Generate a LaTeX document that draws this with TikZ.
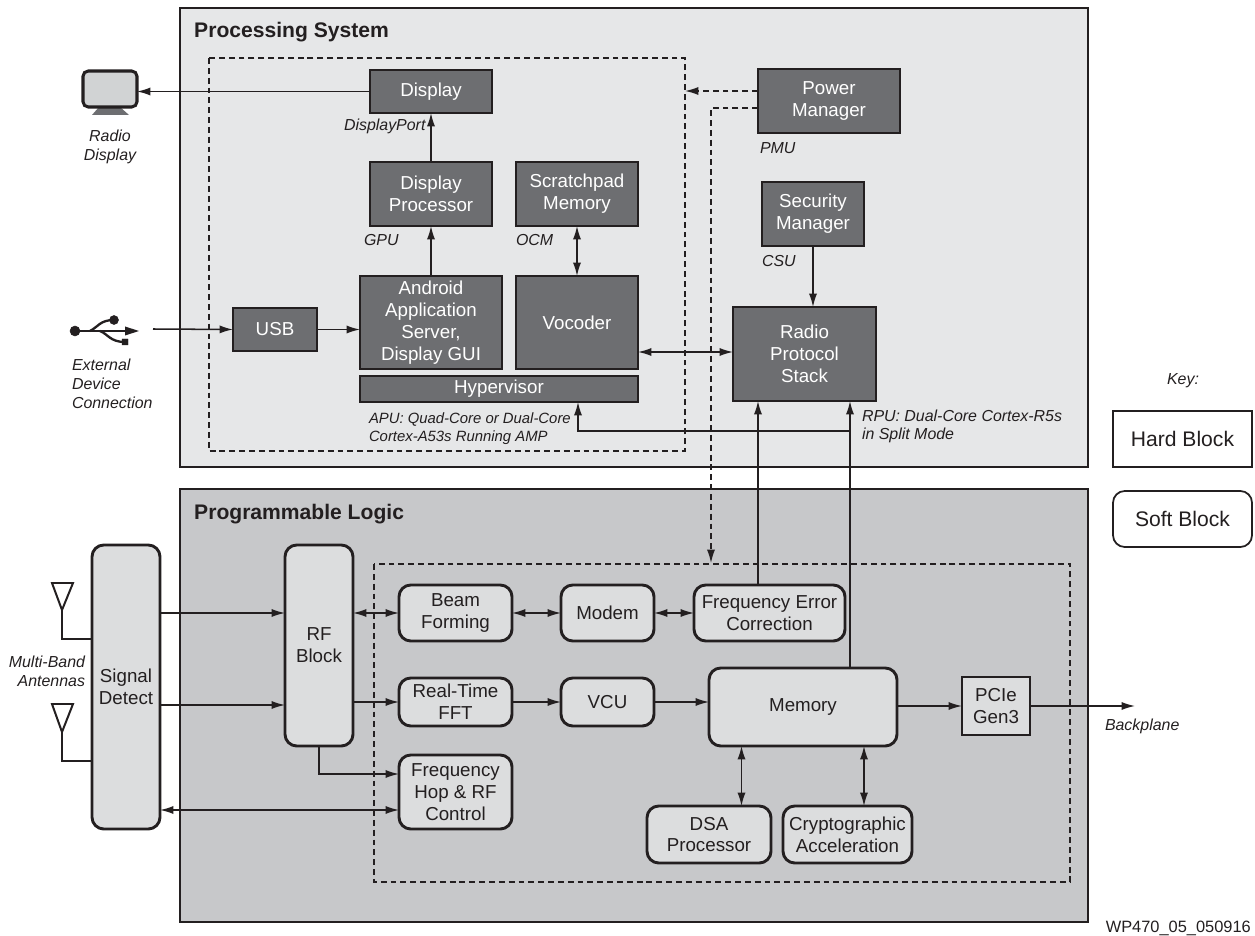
\documentclass[tikz,border=0pt]{standalone}
\usepackage{fontspec}
\setmainfont{Liberation Sans}
\usetikzlibrary{arrows.meta}
\definecolor{inkline}{HTML}{231F20}
\definecolor{psfill}{HTML}{E6E7E8}
\definecolor{plfill}{HTML}{C7C8CA}
\definecolor{hardfill}{HTML}{6D6E71}
\definecolor{softfill}{HTML}{DCDDDE}
\definecolor{screenfill}{HTML}{D1D3D4}
\tikzset{
    wh/.style 2 args={minimum width=#1*0.03cm,minimum height=#2*0.03cm},
    block/.style={draw=inkline,line width=2.5pt,inner sep=0pt,outer sep=0pt,align=center,
        font=\fontsize{16}{18.6}\selectfont},
    hard/.style={block,fill=hardfill,text=white},
    soft/.style={block,fill=softfill,text=inkline,rounded corners=10pt},
    plainbox/.style={block,fill=softfill,text=inkline},
    panel/.style={draw=inkline,line width=2.5pt,outer sep=0pt},
    zone/.style={draw=inkline,line width=1pt,dash pattern=on 5pt off 3.4pt},
    wire/.style={draw=inkline,line width=1.3pt},
    dashwire/.style={wire,dash pattern=on 5pt off 3.4pt},
    note/.style={inner sep=0pt,outer sep=0pt,text=inkline,align=left,
        font=\fontsize{13.6}{16}\selectfont\itshape},
    keybox/.style={line width=1.5pt,font=\fontsize{18}{20}\selectfont},
    title/.style={inner sep=0pt,anchor=west,text=inkline,font=\fontsize{18}{20}\selectfont\bfseries}
}
\begin{document}
\begin{tikzpicture}[x=0.03cm,y=-0.03cm,>={Latex[length=11.5pt,width=7pt]}]
    \useasboundingbox (0,0) rectangle (1255,936);
    % panels
    \draw[panel,fill=psfill] (180,8) rectangle (1088,467);
    \draw[panel,fill=plfill] (180,489) rectangle (1088,922);
    \draw[zone] (209,58) rectangle (685,451);
    \draw[zone] (374,564) rectangle (1070,882);
    \node[title] (pstitle) at (194,32) {Processing System};
    \node[title] (pltitle) at (194,514) {Programmable Logic};
    % processing system
    \node[hard,wh={122}{43}] (display) at (431,91.5) {Display};
    \node[hard,wh={122}{64}] (dispproc) at (431,194) {Display\\Processor};
    \node[hard,wh={122}{64}] (scratch) at (577,194) {Scratchpad\\Memory};
    \node[hard,wh={142}{64}] (power) at (829,101) {Power\\Manager};
    \node[hard,wh={102}{64}] (security) at (813,214) {Security\\Manager};
    \node[hard,wh={84}{43}] (usb) at (275,329.5) {USB};
    \node[hard,wh={142}{93}] (android) at (431,322.5) {Android\\Application\\Server,\\Display GUI};
    \node[hard,wh={122}{93}] (vocoder) at (577,322.5) {Vocoder};
    \node[hard,wh={278}{26}] (hyper) at (499,389) {Hypervisor};
    \node[hard,wh={143}{94}] (radio) at (804.5,354) {Radio\\Protocol\\Stack};
    % programmable logic
    \node[soft,wh={68}{284}] (detect) at (126,687) {Signal\\Detect};
    \node[soft,wh={68}{201}] (rf) at (319,645.5) {RF\\Block};
    \node[soft,wh={113}{56}] (beam) at (455.5,613) {Beam\\Forming};
    \node[soft,wh={93}{56}] (modem) at (607.5,613) {Modem};
    \node[soft,wh={151}{56}] (ferr) at (769.5,613) {Frequency Error\\Correction};
    \node[soft,wh={113}{48}] (fft) at (455.5,702) {Real-Time\\FFT};
    \node[soft,wh={93}{48}] (vcu) at (607.5,702) {VCU};
    \node[soft,wh={188}{78}] (memory) at (803,707) {Memory};
    \node[plainbox,wh={68}{58}] (pcie) at (996,706) {PCIe\\Gen3};
    \node[soft,wh={113}{74}] (hop) at (455.5,792) {Frequency\\Hop \& RF\\Control};
    \node[soft,wh={124}{57}] (dsa) at (709,834.5) {DSA\\Processor};
    \node[soft,wh={129}{57}] (crypto) at (847.5,834.5) {Cryptographic\\Acceleration};
    % key
    \node[block,fill=white,text=inkline,wh={139}{56},keybox] (hardkey) at (1182.5,439) {Hard Block};
    \node[soft,fill=white,wh={139}{56},keybox] (softkey) at (1182.5,519) {Soft Block};
    % monitor
    \fill[hardfill] (99,107) -- (120,107) -- (129,115) -- (92,115) -- cycle;
    \node[draw=inkline,fill=screenfill,line width=2.6pt,rounded corners=4.5pt,inner sep=0pt,outer sep=0pt,wh={54}{36}] (monitor) at (110,89) {};
    % usb symbol
    \coordinate (usbout) at (153,329);
    \filldraw[inkline] (75,331) circle (5) (114,320) circle (4.5) (122,339) rectangle (128,345);
    \draw[inkline,line width=2pt] (75,331) -- (128,331);
    \fill[inkline] (139,331) -- (125,326.5) -- (125,335.5) -- cycle;
    \draw[inkline,line width=2pt] (90,331) .. controls (98,327) and (100,320) .. (114,320);
    \draw[inkline,line width=2pt] (100,331) .. controls (108,334) and (110,342) .. (125,342);
    % antennas
    \coordinate (anta) at (62,610);
    \coordinate (antb) at (62,732);
    \draw[inkline,line width=1.7pt] (52,583) -- (73,583) -- (anta) -- cycle;
    \draw[inkline,line width=1.7pt] (52,704) -- (73,704) -- (antb) -- cycle;
    \draw[wire] (anta) |- (detect.west |- 0,639);
    \draw[wire] (antb) |- (detect.west |- 0,761);
    % connectors
    \draw[wire,->] (display.west) -- (monitor.east |- display.west);
    \draw[wire,->] (dispproc.north) -- (display.south);
    \draw[wire,->] (android.north) -- (dispproc.south);
    \draw[wire,<->] (scratch.south) -- (vocoder.north);
    \draw[wire,->] (usbout) -- (usb.west);
    \draw[wire,->] (usb.east) -- (android.west |- usb.east);
    \draw[wire,<->] (vocoder.east |- 0,352) -- (radio.west |- 0,352);
    \draw[wire,->] (security.south) -- (security.south |- radio.north);
    \draw[dashwire,->] (power.west |- 0,91) -- (685,91);
    \draw[dashwire,->] (power.west |- 0,108) -| (711,563);
    \draw[wire,->] (758,0 |- ferr.north) -- (758,0 |- radio.south);
    \draw[wire,->] (850,0 |- memory.north) -- (850,0 |- radio.south);
    \draw[wire,->] (850,431) -| (578,0 |- hyper.south);
    \draw[wire,->] (detect.east |- 0,613) -- (rf.west |- 0,613);
    \draw[wire,->] (detect.east |- 0,705) -- (rf.west |- 0,705);
    \draw[wire,<->] (detect.east |- 0,810) -- (hop.west |- 0,810);
    \draw[wire,<->] (rf.east |- beam.west) -- (beam.west);
    \draw[wire,<->] (beam.east) -- (modem.west);
    \draw[wire,<->] (modem.east) -- (ferr.west);
    \draw[wire,->] (rf.east |- fft.west) -- (fft.west);
    \draw[wire,->] (fft.east) -- (vcu.west);
    \draw[wire,->] (vcu.east) -- (memory.west |- vcu.east);
    \draw[wire,->] (memory.east |- pcie.west) -- (pcie.west);
    \coordinate (backplane) at (1135,706);
    \draw[wire,->] (pcie.east) -- (backplane);
    \draw[wire,->] (rf.south) |- (hop.west |- 0,774);
    \draw[wire,<->] (741.5,0 |- memory.south) -- (741.5,0 |- dsa.north);
    \draw[wire,<->] (864,0 |- memory.south) -- (864,0 |- crypto.north);
    % labels
    \node[note,align=center] (radiolbl) at (110,147) {Radio\\Display};
    \node[note,anchor=north west] (extlbl) at (72,359) {External\\Device\\Connection};
    \node[note,align=right,anchor=east] (antlbl) at (85,671) {Multi-Band\\Antennas};
    \node[note,anchor=west] (dportlbl) at (344,126) {DisplayPort};
    \node[note,anchor=west] (gpulbl) at (364,240) {GPU};
    \node[note,anchor=west] (ocmlbl) at (516,240) {OCM};
    \node[note,anchor=west] (pmulbl) at (760,148) {PMU};
    \node[note,anchor=west] (csulbl) at (762,261) {CSU};
    \node[note,anchor=west,font=\fontsize{12.7}{15.8}\selectfont\itshape] (apulbl) at (369,428.5) {APU: Quad-Core or Dual-Core\\Cortex-A53s Running AMP};
    \node[note,anchor=west] (rpulbl) at (862,426.5) {RPU: Dual-Core Cortex-R5s\\in Split Mode};
    \node[note,anchor=west] (bplbl) at (1105,726) {Backplane};
    \node[note] (keylbl) at (1183,381) {Key:};
    \node[inner sep=0pt,anchor=east,text=inkline,font=\fontsize{14}{15}\selectfont] (figlbl) at (1251,928) {WP470\_05\_050916};
\end{tikzpicture}
\end{document}
